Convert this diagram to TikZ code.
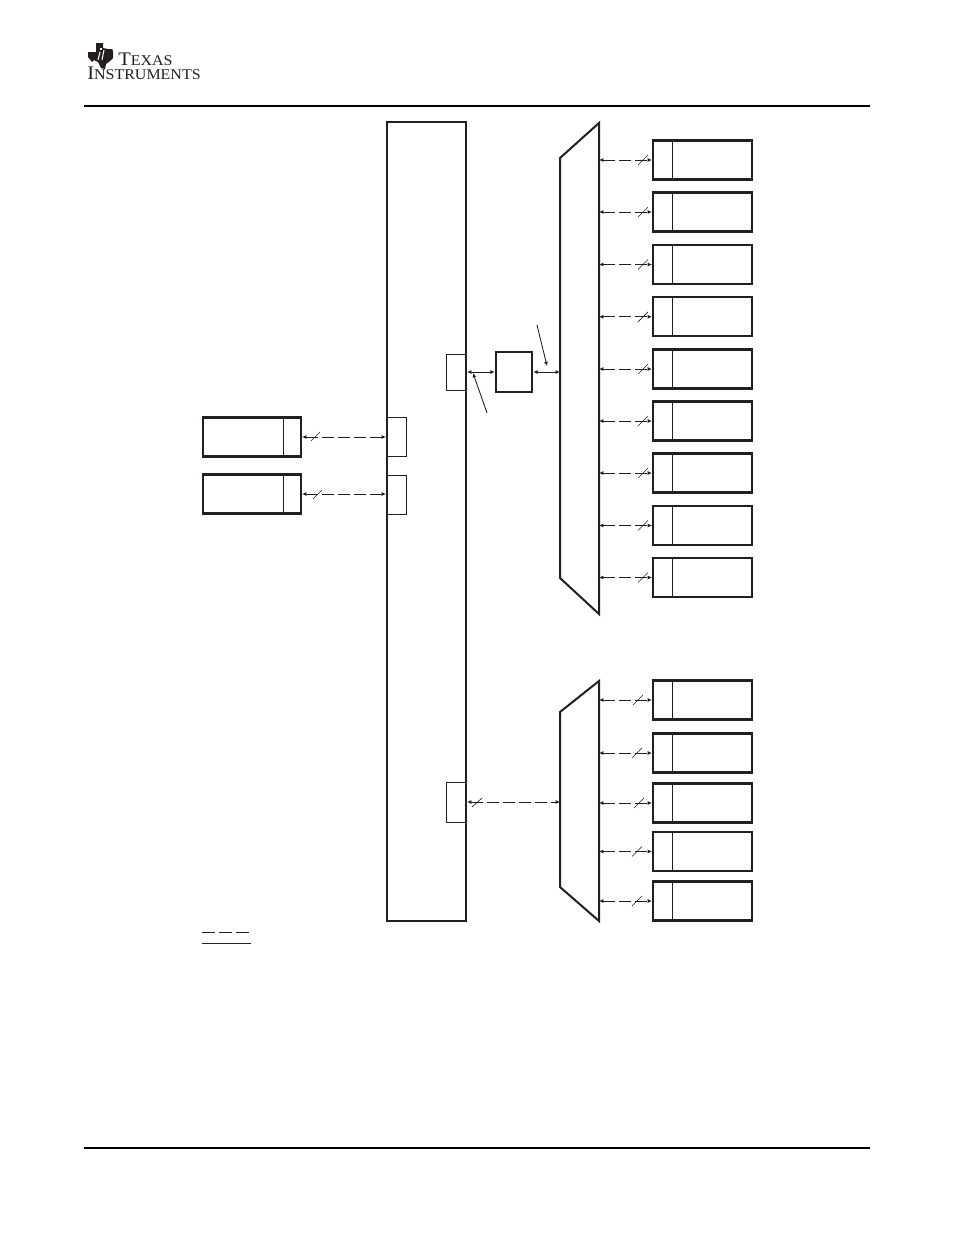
\documentclass[tikz,border=0pt]{standalone}
\usepackage{fontspec}
\setmainfont{Liberation Serif}
\definecolor{ink}{HTML}{231F20}
\usetikzlibrary{arrows.meta}
\tikzset{
  x=0.75pt,y=-0.75pt,
  rulea/.style={draw=ink,line width=1.5pt},
  thickbox/.style={draw=ink,line width=1.6pt,rectangle,inner sep=0pt},
  portbox/.style={draw=ink,line width=0.6pt,rectangle,inner sep=0pt},
  thinline/.style={draw=ink,line width=0.65pt},
  tinyarrow/.style={-{Latex[length=3.2pt,width=3pt]}},
  dblarrow/.style={thinline,{Latex[length=3.2pt,width=3pt]}-{Latex[length=3.2pt,width=3pt]}},
  bus/.style={dblarrow,dash pattern=on 9pt off 3pt},
  slashmark/.style={draw=ink,line width=0.5pt},
  logotext/.style={anchor=base west,inner sep=0pt,text=ink,xscale=1.07,transform shape},
}
\begin{document}
\begin{tikzpicture}
\useasboundingbox (0,0) rectangle (954,1235);
% page rules
\coordinate (tl) at (84,106); \coordinate (tr) at (870,106);
\coordinate (bl) at (84,1148); \coordinate (br) at (870,1148);
\draw[draw=black,line width=1.5pt] (tl) -- (tr);
\draw[draw=black,line width=2.2pt] (bl) -- (br);
% logo
\fill[ink] (88,52) -- (96,52) -- (96,43) -- (103,43) -- (103,48) -- (108,49) -- (112,49) -- (113,51) -- (113,58) -- (110,61) -- (106,64) -- (105,69) -- (101,68) -- (98,62) -- (94,60) -- (92,62) -- (88,57) -- cycle;
\fill[white] (100,48) rectangle (102,50);
\draw[white,line width=0.8pt] (100,52) -- (98,60);
\draw[white,line width=0.8pt] (104,50) -- (102,60);
\node[logotext] (logoa) at (118,65) {\fontsize{14.4pt}{14.4pt}\selectfont T\fontsize{11.2pt}{11.2pt}\selectfont EXAS};
\node[logotext] (logob) at (87,79) {\fontsize{14.4pt}{14.4pt}\selectfont I\fontsize{11.2pt}{11.2pt}\selectfont NSTRUMENTS};
% main bus block
\node[portbox,minimum width=15pt,minimum height=27pt] (pa) at (456,372) {};
\node[portbox,minimum width=14.25pt,minimum height=29.25pt] (pb) at (396.5,436.5) {};
\node[portbox,minimum width=14.25pt,minimum height=29.25pt] (pc) at (396.5,494.5) {};
\node[portbox,minimum width=15pt,minimum height=30pt] (pd) at (456,802) {};
\node[thickbox,minimum width=59.25pt,minimum height=599.25pt] (main) at (426.5,521.5) {};
\node[thickbox,line width=2pt,minimum width=27pt,minimum height=30pt] (sw) at (514,372) {};
% muxes
\coordinate (ma1) at (560,158); \coordinate (ma2) at (599,123); \coordinate (ma3) at (599,614); \coordinate (ma4) at (560,578);
\coordinate (mb1) at (560,712); \coordinate (mb2) at (599,681); \coordinate (mb3) at (599,921); \coordinate (mb4) at (560,887);
\draw[rulea,line join=miter] (ma1) -- (ma2) -- (ma3) -- (ma4) -- cycle;
\draw[rulea,line join=miter] (mb1) -- (mb2) -- (mb3) -- (mb4) -- cycle;
% right boxes
\foreach \n/\yy/\sx in {1/160/638, 2/212/638, 3/264.5/638, 4/316.8/638, 5/369/638, 6/421/638, 7/473/638, 8/525.5/638, 9/577.5/638}{
  \node[thickbox,minimum width=74.25pt,minimum height=29.25pt] (r\n) at (702.5,\yy) {};
  \draw[thinline] ([xshift=15.6pt]r\n.north west) -- ([xshift=15.6pt]r\n.south west);
  \draw[bus] (ma2 |- r\n.west) -- (r\n.west);
  \draw[slashmark] (\sx,\yy+5) -- (\sx+10,\yy-5);
}
\foreach \n/\yy/\sx in {1/700/633, 2/753/632, 3/803/634, 4/851.5/632, 5/901/632}{
  \node[thickbox,minimum width=74.25pt,minimum height=29.25pt] (s\n) at (702.5,\yy) {};
  \draw[thinline] ([xshift=15.6pt]s\n.north west) -- ([xshift=15.6pt]s\n.south west);
  \draw[bus] (mb2 |- s\n.west) -- (s\n.west);
  \draw[slashmark] (\sx,\yy+5) -- (\sx+10,\yy-5);
}
% left boxes
\node[thickbox,minimum width=73.5pt,minimum height=29.25pt] (la) at (252,437) {};
\node[thickbox,minimum width=73.5pt,minimum height=29.25pt] (lb) at (252,494) {};
\draw[thinline] ([xshift=-14.25pt]la.north east) -- ([xshift=-14.25pt]la.south east);
\draw[thinline] ([xshift=-14.25pt]lb.north east) -- ([xshift=-14.25pt]lb.south east);
\draw[bus] (la.east) -- (main.west |- la.east);
\draw[bus] (lb.east) -- (main.west |- lb.east);
\draw[slashmark] (311,441) -- (320,432);
\draw[slashmark] (313,499) -- (322,490);
% central links
\draw[dblarrow] (main.east |- sw.west) -- (sw.west);
\draw[dblarrow] (sw.east) -- (ma1 |- sw.east);
\draw[bus] (main.east |- pd.east) -- (mb1 |- pd.east);
\draw[slashmark] (472,807) -- (482,798);
% pointers
\coordinate (pt1) at (537,325); \coordinate (pt1e) at (547,366);
\coordinate (pt2) at (487,413); \coordinate (pt2e) at (473,373);
\draw[thinline,tinyarrow] (pt1) -- (pt1e);
\draw[thinline,tinyarrow] (pt2) -- (pt2e);
% legend
\coordinate (le1) at (202,932); \coordinate (le2) at (250,932);
\coordinate (le3) at (202,943); \coordinate (le4) at (251,943);
\draw[thinline,dash pattern=on 9.75pt off 3pt] (le1) -- (le2);
\draw[thinline] (le3) -- (le4);
\end{tikzpicture}
\end{document}
